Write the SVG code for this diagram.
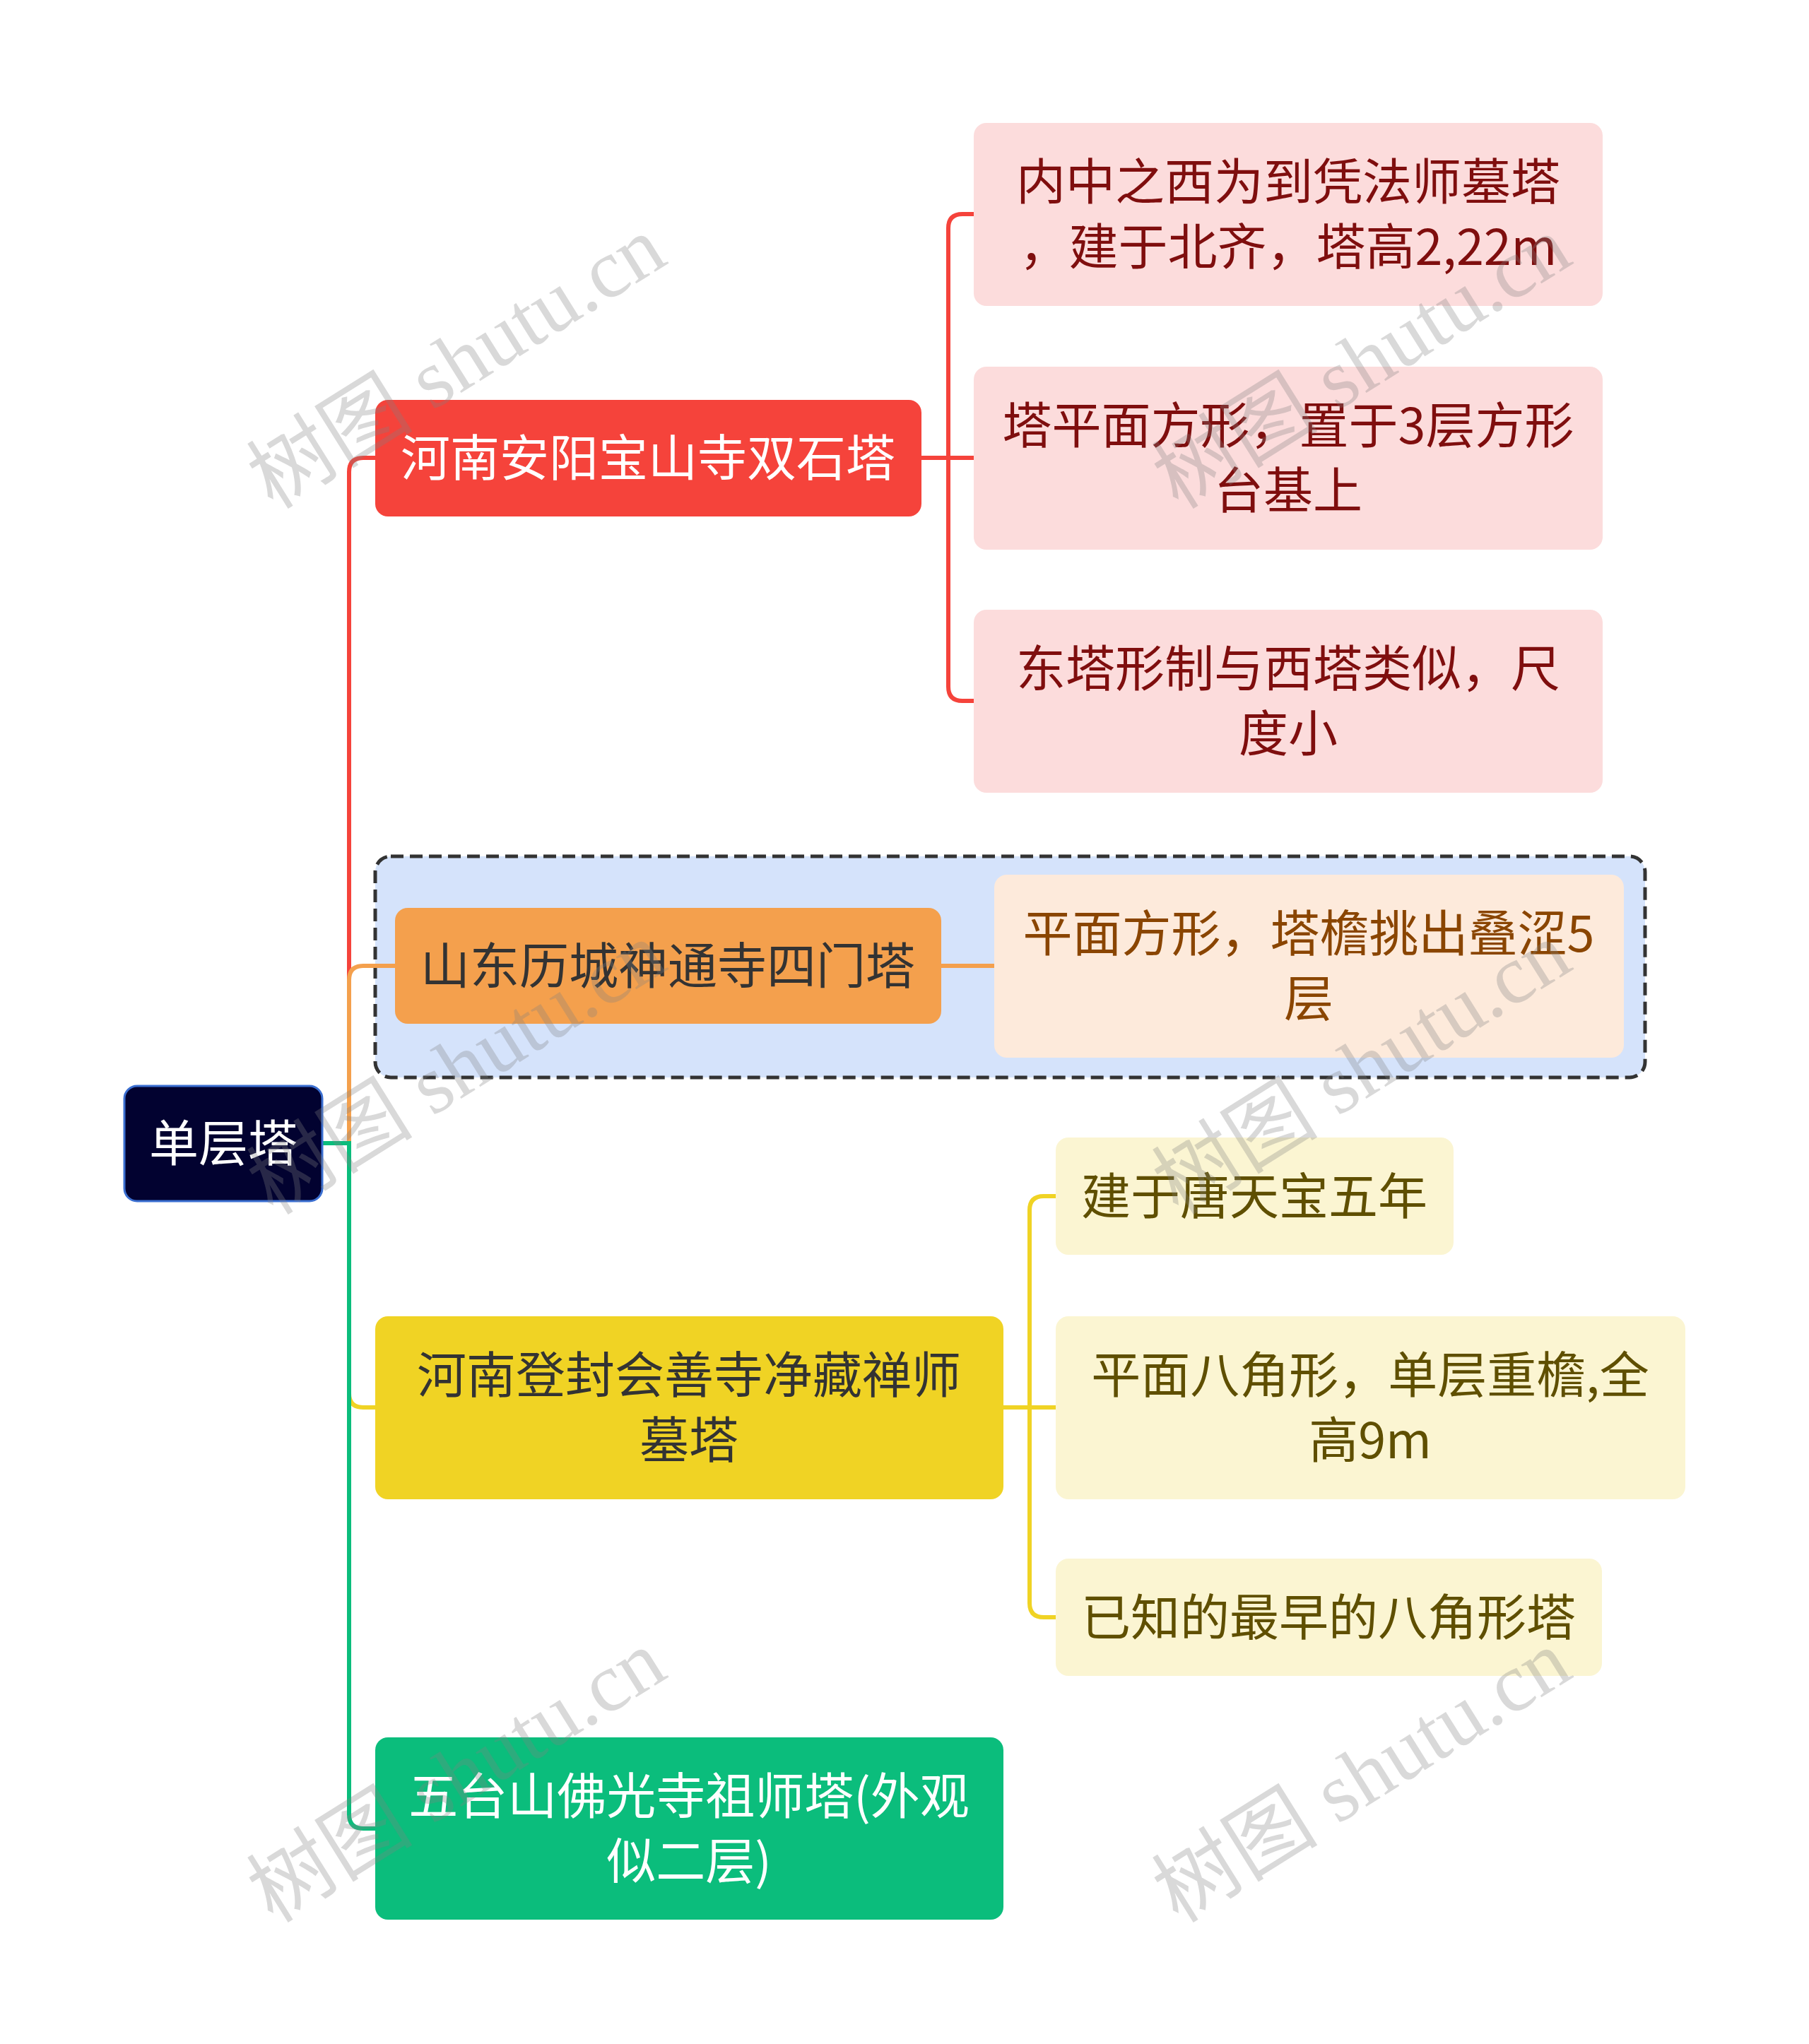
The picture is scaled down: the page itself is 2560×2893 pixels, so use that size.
<svg xmlns="http://www.w3.org/2000/svg" width="2560" height="2893" viewBox="0 0 2560 2893">
<style>
text{font-family:"Noto Sans CJK SC","Noto Sans",sans-serif;font-size:70px;text-anchor:middle}
.c{fill:none;stroke-width:6;stroke-linecap:butt}
.wm{font-family:"Liberation Serif","Noto Sans CJK SC",serif;font-size:118px;fill:#808080;fill-opacity:0.3}
</style>
<rect width="2560" height="2893" fill="#ffffff"/>
<g id="group-box">
<rect x="531" y="1212" width="1797" height="313" rx="22" fill="#d5e3fb" stroke="#333333" stroke-width="5" stroke-dasharray="18 9"/>
</g>
<g id="connectors">
<path class="c" stroke="#f5433b" d="M494 1618 V668 Q494 648 514 648 H531"/>
<path class="c" stroke="#f4a04d" d="M494 1618 V1387 Q494 1367 514 1367 H559"/>
<path class="c" stroke="#f0d324" d="M494 1618 V1972 Q494 1992 514 1992 H531"/>
<path class="c" stroke="#0bbd7c" d="M456 1618 H494 V2568 Q494 2588 514 2588 H531"/>
<path class="c" stroke="#f5433b" d="M1304 648 H1380 M1342 648 V323 Q1342 303 1362 303 H1380 M1342 648 V972 Q1342 992 1362 992 H1380"/>
<path class="c" stroke="#f4a04d" d="M1332 1367 H1407"/>
<path class="c" stroke="#f0d324" d="M1420 1992 H1494 M1457 1992 V1713 Q1457 1693 1477 1693 H1494 M1457 1992 V2269 Q1457 2289 1477 2289 H1494"/>
</g>
<g id="root">
<rect x="176" y="1537" width="280" height="163" rx="18" fill="#020230" stroke="#3b6fd1" stroke-width="3"/>
<text x="316" y="1644" fill="#ffffff">单层塔</text>
</g>
<g id="n-red">
<rect x="531" y="566" width="773" height="165" rx="18" fill="#f5433b"/>
<text x="917" y="674" fill="#ffffff">河南安阳宝山寺双石塔</text>
</g>
<g id="n-red-1">
<rect x="1378" y="174" width="890" height="259" rx="18" fill="#fcdcdc"/>
<text x="1823" y="283" fill="#7f0e0e">内中之西为到凭法师墓塔</text>
<text x="1823" y="375" fill="#7f0e0e">，建于北齐，塔高2,22m</text>
</g>
<g id="n-red-2">
<rect x="1378" y="519" width="890" height="259" rx="18" fill="#fcdcdc"/>
<text x="1823" y="628" fill="#7f0e0e">塔平面方形，置于3层方形</text>
<text x="1823" y="720" fill="#7f0e0e">台基上</text>
</g>
<g id="n-red-3">
<rect x="1378" y="863" width="890" height="259" rx="18" fill="#fcdcdc"/>
<text x="1823" y="972" fill="#7f0e0e">东塔形制与西塔类似，尺</text>
<text x="1823" y="1064" fill="#7f0e0e">度小</text>
</g>
<g id="n-orange">
<rect x="559" y="1285" width="773" height="164" rx="18" fill="#f4a04d"/>
<text x="945" y="1393" fill="#333333">山东历城神通寺四门塔</text>
</g>
<g id="n-orange-1">
<rect x="1407" y="1238" width="891" height="259" rx="18" fill="#fdeadb"/>
<text x="1852" y="1347" fill="#8a4500">平面方形，塔檐挑出叠涩5</text>
<text x="1852" y="1439" fill="#8a4500">层</text>
</g>
<g id="n-yellow">
<rect x="531" y="1863" width="889" height="259" rx="18" fill="#f0d324"/>
<text x="975" y="1972" fill="#333333">河南登封会善寺净藏禅师</text>
<text x="975" y="2064" fill="#333333">墓塔</text>
</g>
<g id="n-yellow-1">
<rect x="1494" y="1610" width="563" height="166" rx="18" fill="#fbf5d2"/>
<text x="1775" y="1719" fill="#5f4f00">建于唐天宝五年</text>
</g>
<g id="n-yellow-2">
<rect x="1494" y="1863" width="891" height="259" rx="18" fill="#fbf5d2"/>
<text x="1939" y="1972" fill="#5f4f00">平面八角形，单层重檐,全</text>
<text x="1939" y="2064" fill="#5f4f00">高9m</text>
</g>
<g id="n-yellow-3">
<rect x="1494" y="2206" width="773" height="166" rx="18" fill="#fbf5d2"/>
<text x="1880" y="2315" fill="#5f4f00">已知的最早的八角形塔</text>
</g>
<g id="n-green">
<rect x="531" y="2459" width="889" height="258" rx="18" fill="#0bbd7c"/>
<text x="975" y="2568" fill="#ffffff">五台山佛光寺祖师塔(外观</text>
<text x="975" y="2660" fill="#ffffff">似二层)</text>
</g>
<g id="watermarks">
<text class="wm" transform="translate(646 513) rotate(-32)" y="40">树图 shutu.cn</text>
<text class="wm" transform="translate(1927 513) rotate(-32)" y="40">树图 shutu.cn</text>
<text class="wm" transform="translate(646 1512) rotate(-32)" y="40">树图 shutu.cn</text>
<text class="wm" transform="translate(1927 1512) rotate(-32)" y="40">树图 shutu.cn</text>
<text class="wm" transform="translate(646 2514) rotate(-32)" y="40">树图 shutu.cn</text>
<text class="wm" transform="translate(1927 2514) rotate(-32)" y="40">树图 shutu.cn</text>
</g>
</svg>
